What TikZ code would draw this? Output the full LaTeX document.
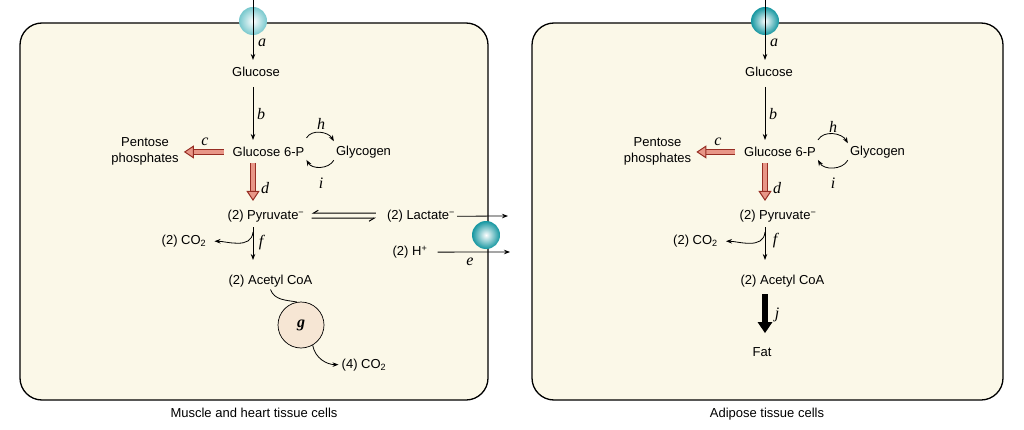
\documentclass[tikz,border=0pt]{standalone}
\usepackage{fontspec}
\setmainfont{Liberation Sans}
\newfontfamily\lblfont{Liberation Serif}
\usepackage{xcolor}
\definecolor{cellbg}{RGB}{251,248,232}
\definecolor{rim}{RGB}{150,45,35}
\definecolor{rimfill}{RGB}{232,150,135}
\definecolor{gfill}{RGB}{246,230,212}
\definecolor{poreA}{RGB}{120,200,205}
\definecolor{poreB}{RGB}{20,150,160}
\usetikzlibrary{arrows.meta}
\newcommand{\metfont}{\fontsize{13}{16}\selectfont}
\newcommand{\stepfont}{\lblfont\itshape\fontsize{16}{18}\selectfont}

\begin{document}
\begin{tikzpicture}[x=1pt, y=1pt, >=Stealth,
  cell/.style={draw, line width=1.3pt, rounded corners=22pt, fill=cellbg},
  met/.style={font=\metfont, inner sep=2pt, anchor=base},
  lbl/.style={font=\stepfont, inner sep=0pt},
  rxn/.style={-{Stealth[length=6pt,width=4.5pt]}, line width=0.8pt},
  harp/.style={-{Straight Barb[right,length=5pt,width=6pt]}, line width=1pt},
  hollow/.style={draw=rim, line width=1pt, double=rimfill, double distance=3.2pt, -{Triangle[length=10pt,width=13pt,fill=rimfill]}},
  fatarrow/.style={line width=6.5pt, -{Triangle[length=11pt,width=14pt]}},
  carrier/.style={circle, minimum size=28pt, inner sep=0pt, shading=radial}]
\useasboundingbox (0,0) rectangle (1024,429);
\fill[white] (0,0) rectangle (1024,429);

% muscle and heart cell
\draw[cell] (20,29) rectangle (488,406);
\coordinate (axL) at (253,0);
\coordinate (topL) at (253,429);
\node[carrier, inner color=white, outer color=poreA] (tL) at (253,408) {};
\node[carrier, inner color=white, outer color=poreB] (tE) at (486,194) {};
\node[met] (glcL) at (256,352.4) {Glucose};
\node[met] (g6pL) at (268.5,272.4) {Glucose 6-P};
\node[font=\metfont, align=center, inner sep=2pt] (pentL) at (145,278) {Pentose\\phosphates};
\node[met] (glycL) at (363.5,273.4) {Glycogen};
\node[met] (pyrL) at (266,209.4) {(2) Pyruvate\textsuperscript{−}};
\node[met] (lacL) at (421,209.4) {(2) Lactate\textsuperscript{−}};
\node[met] (hL) at (410,173.4) {(2) H\textsuperscript{+}};
\node[met] (co2L) at (184,184.4) {(2) CO\textsubscript{2}};
\node[met] (acL) at (270.5,144.4) {(2) Acetyl CoA};
\node[circle, draw, line width=0.7pt, fill=gfill, minimum size=46pt, font=\stepfont\bfseries] (gL) at (301,104) {g};
\node[met] (co2bL) at (364,61) {(4) CO\textsubscript{2}};
\node[met] (capL) at (254,12) {Muscle and heart tissue cells};
\coordinate (fbrL) at (253,197);
\coordinate (lacout) at (508,213);
\coordinate (hout) at (510,177);

\draw[rxn, shorten >=5pt] (topL) -- (glcL.north -| axL);
\draw[rxn, shorten <=8pt, shorten >=5pt] (glcL.south -| axL) -- (g6pL.north -| axL);
\draw[hollow, shorten <=7pt, shorten >=3pt] (g6pL.west) -- (g6pL.west -| pentL.east);
\draw[hollow, shorten <=4pt, shorten >=7pt] (g6pL.south -| axL) -- (pyrL.north -| axL);
\draw[rxn] ([yshift=14pt]g6pL.east) to[out=60, in=120] ([yshift=11pt]glycL.west);
\draw[rxn] ([yshift=-8pt]glycL.west) to[out=-120, in=-60] ([yshift=-8pt]g6pL.east);
\draw[rxn, shorten <=3pt, shorten >=13pt] (pyrL.south -| axL) -- (acL.north -| axL);
\draw[rxn, shorten >=6pt] (fbrL) to[out=-95, in=0] (co2L.east);
\draw[harp, shorten <=9pt, shorten >=5pt] ([yshift=3pt]lacL.west) -- ([yshift=3pt]pyrL.east);
\draw[harp, shorten <=5pt, shorten >=9pt] ([yshift=-2pt]pyrL.east) -- ([yshift=-2pt]lacL.west);
\draw[rxn] (lacL.east) -- (lacout);
\draw[rxn, shorten <=8pt] (hL.east) -- (hout);
\draw[line width=0.8pt] (acL.south) to[out=-70, in=170] (gL.100);
\draw[rxn, shorten >=1pt] (gL.-60) to[out=-80, in=180] (co2bL.west);
\node[lbl] (laL) at (262,386) {a};
\node[lbl] (lbL) at (261,315) {b};
\node[lbl] (lcL) at (205,287) {c};
\node[lbl] (ldL) at (265,241) {d};
\node[lbl] (leL) at (470,167) {e};
\node[lbl] (lfL) at (261,186) {f};
\node[lbl] (lhL) at (321,305) {h};
\node[lbl] (liL) at (321,246) {i};

% adipose cell
\draw[cell] (532,29) rectangle (1003,406);
\coordinate (axR) at (765,0);
\coordinate (topR) at (765,429);
\node[carrier, inner color=white, outer color=poreB] (tR) at (765,408) {};
\node[met] (glcR) at (769,352.4) {Glucose};
\node[met] (g6pR) at (780,272.4) {Glucose 6-P};
\node[font=\metfont, align=center, inner sep=2pt] (pentR) at (657.5,278) {Pentose\\phosphates};
\node[met] (glycR) at (877.5,273.4) {Glycogen};
\node[met] (pyrR) at (778,209.4) {(2) Pyruvate\textsuperscript{−}};
\node[met] (co2R) at (695.5,184.4) {(2) CO\textsubscript{2}};
\node[met] (acR) at (782.5,144.4) {(2) Acetyl CoA};
\node[met] (fatR) at (762,72.7) {Fat};
\node[met] (capR) at (767,12) {Adipose tissue cells};
\coordinate (fbrR) at (765,197);

\draw[rxn, shorten >=5pt] (topR) -- (glcR.north -| axR);
\draw[rxn, shorten <=8pt, shorten >=5pt] (glcR.south -| axR) -- (g6pR.north -| axR);
\draw[hollow, shorten <=7pt, shorten >=3pt] (g6pR.west) -- (g6pR.west -| pentR.east);
\draw[hollow, shorten <=4pt, shorten >=7pt] (g6pR.south -| axR) -- (pyrR.north -| axR);
\draw[rxn] ([yshift=12pt]g6pR.east) to[out=60, in=120] ([yshift=9pt]glycR.west);
\draw[rxn] ([yshift=-8pt]glycR.west) to[out=-120, in=-60] ([yshift=-8pt]g6pR.east);
\draw[rxn, shorten <=3pt, shorten >=13pt] (pyrR.south -| axR) -- (acR.north -| axR);
\draw[rxn, shorten >=6pt] (fbrR) to[out=-95, in=0] (co2R.east);
\draw[fatarrow, shorten <=5pt, shorten >=12pt] (acR.south -| axR) -- (fatR.north -| axR);
\node[lbl] (laR) at (774,386) {a};
\node[lbl] (lbR) at (773,315) {b};
\node[lbl] (lcR) at (718,287) {c};
\node[lbl] (ldR) at (777,241) {d};
\node[lbl] (lfR) at (775,188) {f};
\node[lbl] (lhR) at (833,302) {h};
\node[lbl] (liR) at (833,246) {i};
\node[lbl] (ljR) at (777,114) {j};
\end{tikzpicture}
\end{document}
